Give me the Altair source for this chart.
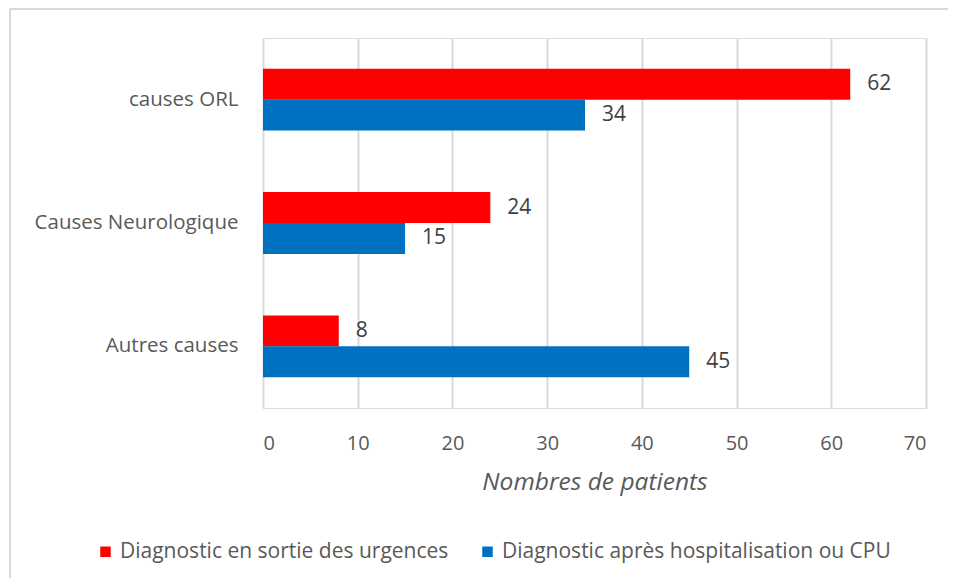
import altair as alt
import pandas as pd

categories = ["causes ORL", "Causes Neurologique", "Autres causes"]
series = ["Diagnostic en sortie des urgences", "Diagnostic après hospitalisation ou CPU"]
urgences = [62, 24, 8]
hospitalisation = [34, 15, 45]
colors = ["#FF0000", "#0070C0"]
x_ticks = [0, 10, 20, 30, 40, 50, 60, 70]

rows = []
for c, a, b in zip(categories, urgences, hospitalisation):
    rows.append({"cause": c, "serie": series[0], "n": a})
    rows.append({"cause": c, "serie": series[1], "n": b})
df = pd.DataFrame(rows)

FONT = "Open Sans"
GRAY = "#595959"

y_enc = alt.Y("cause:N", sort=categories,
              scale=alt.Scale(paddingInner=0.5, paddingOuter=0.25),
              axis=alt.Axis(title=None, labelFontSize=20.5, labelColor=GRAY, labelFont=FONT,
                            labelPadding=25, labelLimit=400, ticks=False, domain=False, grid=False))
yoff = alt.YOffset("serie:N", sort=series)
x_enc = alt.X("n:Q", scale=alt.Scale(domain=[0, 70], nice=False),
              axis=alt.Axis(values=x_ticks, title="Nombres de patients", titleFontStyle="italic",
                            titleFontWeight="normal", titleFontSize=24.5, titleColor=GRAY, titleFont=FONT,
                            titlePadding=17, labelFontSize=20, labelColor=GRAY, labelFont=FONT,
                            labelPadding=25, ticks=False, domain=False, grid=True,
                            gridColor="#D9D9D9", gridWidth=2))

bars = alt.Chart(df).mark_bar(size=31).encode(
    y=y_enc, yOffset=yoff, x=x_enc,
    color=alt.Color("serie:N", sort=series,
                    scale=alt.Scale(domain=series, range=colors),
                    legend=alt.Legend(title=None, orient="none", direction="horizontal",
                                      legendX=-168, legendY=503, symbolType="square",
                                      symbolSize=110, symbolStrokeWidth=0, labelFontSize=21,
                                      labelColor=GRAY, labelFont=FONT, columnPadding=28,
                                      labelOffset=4, labelLimit=600)),
)

labels = alt.Chart(df).mark_text(align="left", baseline="middle", dx=17, fontSize=21,
                                 color="#404040", font=FONT).encode(
    y=alt.Y("cause:N", sort=categories), yOffset=yoff, x="n:Q", text="n:Q")

frame_df = pd.DataFrame({"k": [0]})
top_line = alt.Chart(frame_df).mark_rule(color="#D9D9D9", strokeWidth=2).encode(
    x=alt.value(-253), x2=alt.value(720), y=alt.value(-29))
left_line = alt.Chart(frame_df).mark_rule(color="#D9D9D9", strokeWidth=2).encode(
    x=alt.value(-253), y=alt.value(-29), y2=alt.value(547))

chart = alt.layer(bars, labels, top_line, left_line).properties(
    width=663, height=370,
    autosize=alt.AutoSizeParams(type="none"),
    padding={"left": 255, "top": 30, "right": 22, "bottom": 170},
).configure_view(stroke=None).configure(font=FONT)

chart.save("out.html", embed_options={"renderer": "svg", "actions": False})
